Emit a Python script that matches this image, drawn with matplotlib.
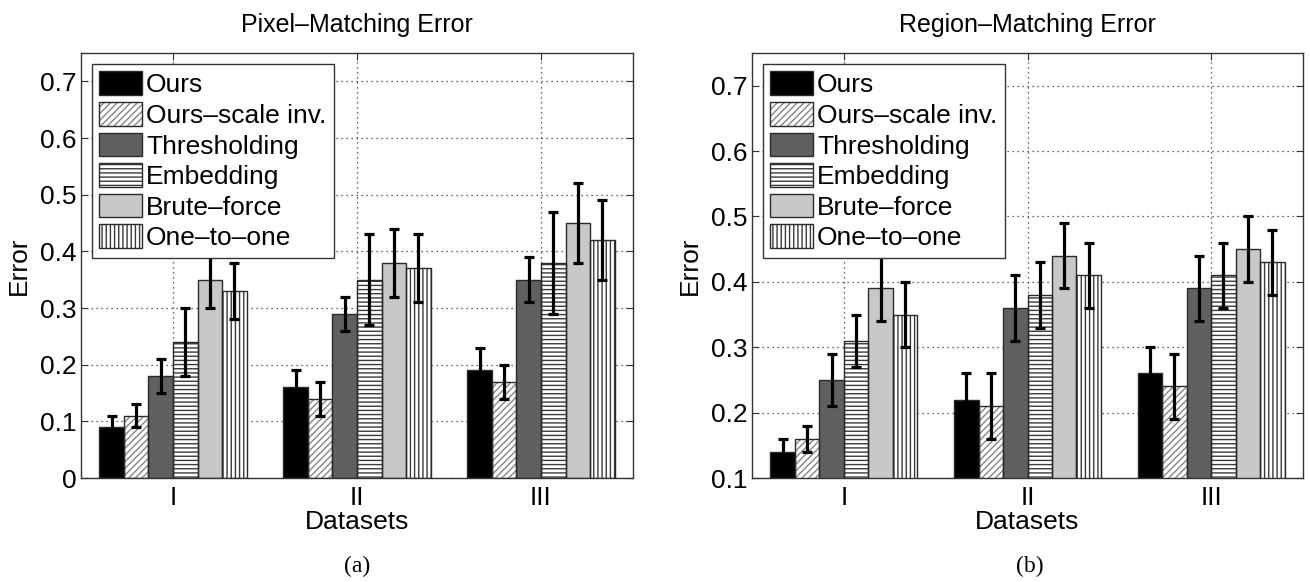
import matplotlib
matplotlib.use("Agg")
import matplotlib.pyplot as plt
import numpy as np
from matplotlib.patches import Patch
from matplotlib.legend_handler import HandlerTuple

groups = ["I", "II", "III"]
methods = ["Ours", "Ours\u2013scale inv.", "Thresholding", "Embedding",
           "Brute\u2013force", "One\u2013to\u2013one"]

pixel_err = [[0.09, 0.16, 0.19],
             [0.11, 0.14, 0.17],
             [0.18, 0.29, 0.35],
             [0.24, 0.35, 0.38],
             [0.35, 0.38, 0.45],
             [0.33, 0.37, 0.42]]
pixel_std = [[0.02, 0.03, 0.04],
             [0.02, 0.03, 0.03],
             [0.03, 0.03, 0.04],
             [0.06, 0.08, 0.09],
             [0.05, 0.06, 0.07],
             [0.05, 0.06, 0.07]]

region_err = [[0.14, 0.22, 0.26],
              [0.16, 0.21, 0.24],
              [0.25, 0.36, 0.39],
              [0.31, 0.38, 0.41],
              [0.39, 0.44, 0.45],
              [0.35, 0.41, 0.43]]
region_std = [[0.02, 0.04, 0.04],
              [0.02, 0.05, 0.05],
              [0.04, 0.05, 0.05],
              [0.04, 0.05, 0.05],
              [0.05, 0.05, 0.05],
              [0.05, 0.05, 0.05]]

pixel_ticks = [0, 0.1, 0.2, 0.3, 0.4, 0.5, 0.6, 0.7]
region_ticks = [0.1, 0.2, 0.3, 0.4, 0.5, 0.6, 0.7]

faces = ["#000000", "#ffffff", "#606060", "#ffffff", "#c8c8c8", "#ffffff"]
hatches = [None, "/////", None, "----", None, "||||"]
hatch_cols = ["#000000", "#858585", "#606060", "#3a3a3a", "#c8c8c8", "#3a3a3a"]
outline = "#2a2a2a"

plt.rcParams["font.family"] = ["Liberation Sans", "DejaVu Sans"]
plt.rcParams["hatch.linewidth"] = 1.0

fig = plt.figure(figsize=(13.1, 5.82), dpi=100)
ax1 = fig.add_axes([81 / 1310, 1 - 478 / 582, 552 / 1310, 425 / 582])
ax2 = fig.add_axes([752 / 1310, 1 - 478 / 582, 551 / 1310, 425 / 582])

FS = 19
TFS = 18


def draw(ax, vals, errs, ylim, yticks, title):
    n = len(methods)
    x = np.arange(1, len(groups) + 1)
    w = 0.8 / n
    handles = []
    for i in range(n):
        pos = x - 0.4 + w * (i + 0.5)
        ax.bar(pos, vals[i], width=w, color=faces[i],
               edgecolor=hatch_cols[i], hatch=hatches[i],
               linewidth=0, zorder=2)
        ax.bar(pos, vals[i], width=w, fill=False, edgecolor=outline,
               linewidth=1.0, zorder=3)
        ax.errorbar(pos, vals[i], yerr=errs[i], fmt="none", ecolor="black",
                    elinewidth=2.3, capsize=3.6, capthick=2.3, zorder=4)
        h1 = Patch(facecolor=faces[i], edgecolor=hatch_cols[i],
                   hatch=hatches[i], linewidth=0)
        h2 = Patch(fill=False, edgecolor=outline, linewidth=1.0)
        handles.append((h1, h2))
    ax.set_xlim(0.5, 3.5)
    ax.set_ylim(*ylim)
    ax.set_xticks(x)
    ax.set_xticklabels(groups, fontsize=FS)
    ax.set_yticks(yticks)
    ax.set_yticklabels([("%g" % t) for t in yticks], fontsize=FS)
    ax.tick_params(direction="in", top=True, right=True, length=5,
                   width=0.8, color="#333333")
    ax.tick_params(axis="x", pad=6)
    ax.tick_params(axis="y", pad=3)
    ax.grid(True, linestyle=(0, (1, 3)), color="#333333", linewidth=0.9)
    ax.set_axisbelow(True)
    for s in ax.spines.values():
        s.set_color("#333333")
        s.set_linewidth(1.0)
    ax.set_xlabel("Datasets", fontsize=FS, labelpad=0)
    ax.set_ylabel("Error", fontsize=FS, labelpad=7)
    ax.set_title(title, fontsize=TFS, pad=15)
    leg = ax.legend(handles, methods, loc="upper left", fontsize=FS,
                    handler_map={tuple: HandlerTuple(ndivide=1, pad=0)},
                    handlelength=1.6, handleheight=1.0, handletextpad=0.17,
                    labelspacing=0.18, borderpad=0.3, borderaxespad=0.4,
                    fancybox=False, framealpha=1, edgecolor="#333333")
    leg.get_frame().set_linewidth(1.0)
    leg.set_zorder(10)


draw(ax1, pixel_err, pixel_std, (0, 0.75), pixel_ticks,
     "Pixel\u2013Matching Error")
draw(ax2, region_err, region_std, (0.1, 0.75), region_ticks,
     "Region\u2013Matching Error")

fig.text(357 / 1310, 1 - 566 / 582, "(a)", ha="center", va="center",
         fontsize=17, family=["Liberation Serif", "DejaVu Serif"])
fig.text(1030 / 1310, 1 - 566 / 582, "(b)", ha="center", va="center",
         fontsize=17, family=["Liberation Serif", "DejaVu Serif"])

fig.savefig("out.png", dpi=100)
